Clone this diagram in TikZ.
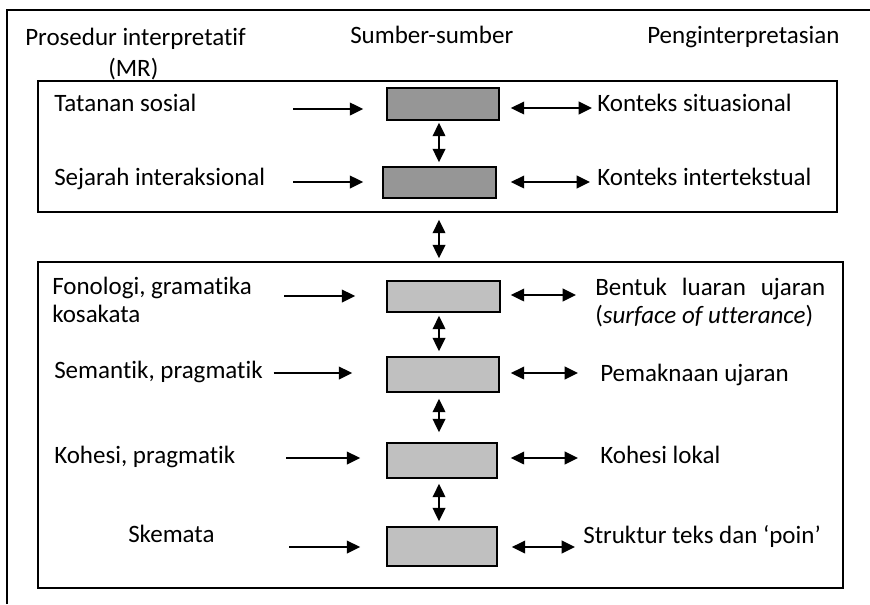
\documentclass[tikz,border=0pt]{standalone}
\usepackage{fontspec}
\setmainfont[Ligatures={NoCommon}]{Carlito}
\usetikzlibrary{arrows.meta}
\definecolor{darkfill}{RGB}{150,150,150}
\definecolor{lightfill}{RGB}{192,192,192}
\begin{document}
\begin{tikzpicture}[x=0.75pt,y=-0.75pt,
  frameline/.style={line width=1.1pt},
  panel/.style={draw, line width=1.3pt, inner sep=0pt},
  srcbox/.style={draw, line width=1.3pt, inner sep=0pt},
  dk/.style={srcbox, fill=darkfill},
  lt/.style={srcbox, fill=lightfill},
  txt/.style={inner sep=0pt, anchor=base west, font=\fontsize{18.75}{21}\selectfont},
  arr/.style={line width=1.4pt, -{Triangle[length=10pt,width=9.5pt]}},
  dbl/.style={line width=1.4pt, {Triangle[length=10pt,width=9.5pt]}-{Triangle[length=10pt,width=9.5pt]}}
]
\useasboundingbox (0,0) rectangle (870,604);
% outer frame (partially visible)
\draw[frameline] (7,604) -- (7,10) -- (870,10);

% headers
\node[txt] (h1) at (25,45) {Prosedur interpretatif};
\node[txt] (h1b) at (108,76) {(MR)};
\node[txt] (h2) at (350,43) {Sumber-sumber};
\node[txt] (h3) at (647,43) {Penginterpretasian};

% panels
\node[panel, minimum width=599.25pt, minimum height=98.25pt] (top) at (437.5,146.5) {};
\node[panel, minimum width=603.75pt, minimum height=244.5pt] (low) at (440.5,425) {};

% source boxes
\node[dk, minimum width=84pt, minimum height=24pt] (d1) at (443,104) {};
\node[dk, minimum width=84.75pt, minimum height=23.25pt] (d2) at (439.5,182.5) {};
\node[lt, minimum width=84.75pt, minimum height=23.25pt] (l1) at (443.5,296.5) {};
\node[lt, minimum width=84pt, minimum height=26.25pt] (l2) at (443,374.5) {};
\node[lt, minimum width=82.5pt, minimum height=26.25pt] (l3) at (442,460.5) {};
\node[lt, minimum width=82.5pt, minimum height=29.25pt] (l4) at (442,546.5) {};

% left labels
\node[txt] (t1) at (54,111) {Tatanan sosial};
\node[txt] (t2) at (54,185) {Sejarah interaksional};
\node[txt, align=left] (t3) at (52,322) {Fonologi, gramatika\\kosakata};
\node[txt] (t4) at (54,378) {Semantik, pragmatik};
\node[txt] (t5) at (54,463) {Kohesi, pragmatik};
\node[txt] (t6) at (128,542) {Skemata};

% right labels
\node[txt] (r1) at (597,111) {Konteks situasional};
\node[txt] (r2) at (597,185) {Konteks intertekstual};
\node[txt, align=left] (r3) at (595,323) {\makebox[172.5pt][s]{Bentuk luaran ujaran}\\(\textit{surface of utterance})};
\node[txt] (r4) at (600,381) {Pemaknaan ujaran};
\node[txt] (r5) at (600,463) {Kohesi lokal};
\node[txt] (r6) at (583,543) {Struktur teks dan ‘poin’};

% free ends of the horizontal arrows
\coordinate (L1) at (293,109);
\coordinate (L2) at (293,182);
\coordinate (L3) at (284,296);
\coordinate (L4) at ([xshift=8pt,yshift=3.75pt]t4.base east);
\coordinate (L5) at (286,458);
\coordinate (L6) at (289,547);
\coordinate (R1) at (592,108);
\coordinate (R2) at (590,182);
\coordinate (R3) at (576,295);
\coordinate (R4) at (578,373);
\coordinate (R5) at (578,458);
\coordinate (R6) at (575,547);

% left arrows into boxes
\draw[arr, shorten >=17.25pt] (L1) -- (L1 -| d1.west);
\draw[arr, shorten >=14.25pt] (L2) -- (L2 -| d2.west);
\draw[arr, shorten >=23.25pt] (L3) -- (L3 -| l1.west);
\draw[arr, shorten >=25.5pt] (L4) -- (L4 -| l2.west);
\draw[arr, shorten >=19.5pt] (L5) -- (L5 -| l3.west);
\draw[arr, shorten >=19.5pt] (L6) -- (L6 -| l4.west);

% right double arrows
\draw[dbl, shorten <=8.25pt] (R1 -| d1.east) -- (R1);
\draw[dbl, shorten <=10.5pt] (R2 -| d2.east) -- (R2);
\draw[dbl, shorten <=7.5pt] (R3 -| l1.east) -- (R3);
\draw[dbl, shorten <=8.25pt] (R4 -| l2.east) -- (R4);
\draw[dbl, shorten <=9.75pt] (R5 -| l3.east) -- (R5);
\draw[dbl, shorten <=10.5pt] (R6 -| l4.east) -- (R6);

% vertical double arrows
\draw[dbl, shorten <=1.5pt, shorten >=3pt] ([xshift=-3pt]d1.south) -- ([xshift=-3pt]d1.south |- d2.north);
\draw[dbl, shorten <=5.25pt, shorten >=2.25pt] ([xshift=1.125pt]top.south) -- ([xshift=1.125pt]top.south |- low.north);
\draw[dbl, shorten <=2.25pt, shorten >=3.75pt] ([xshift=-3.375pt]l1.south) -- ([xshift=-3.375pt]l1.south |- l2.north);
\draw[dbl, shorten <=4.5pt, shorten >=7.5pt] ([xshift=-3pt]l2.south) -- ([xshift=-3pt]l2.south |- l3.north);
\draw[dbl, shorten <=3.75pt, shorten >=3.75pt] ([xshift=-2.25pt]l3.south) -- ([xshift=-2.25pt]l3.south |- l4.north);
\end{tikzpicture}
\end{document}
